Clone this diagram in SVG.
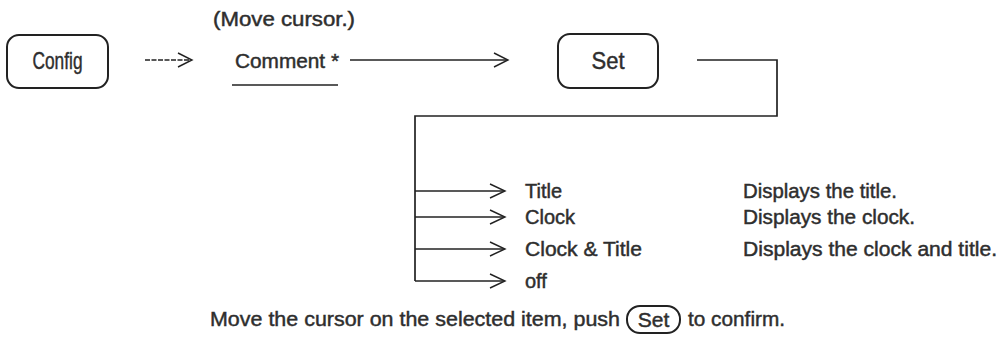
<svg xmlns="http://www.w3.org/2000/svg" width="1002" height="339" viewBox="0 0 1002 339">
<style>
text{font-family:"Liberation Sans",Arial,sans-serif;fill:#2e2e2e;stroke:#2e2e2e;stroke-width:0.45;font-size:20px}
.btn{font-size:24px}
.note{font-size:21px}
.box{fill:none;stroke:#222;stroke-width:2}
.ln{fill:none;stroke:#222;stroke-width:1.7}
.hd{fill:none;stroke:#222;stroke-width:1.4}
.c{text-anchor:middle}
</style>
<rect width="1002" height="339" fill="#fff"/>
<g id="config"><rect class="box" x="7" y="35" width="101" height="53" rx="12"/><text class="btn c" x="57.5" y="69" textLength="50" lengthAdjust="spacingAndGlyphs">Config</text></g>
<g id="comment"><text x="213" y="26" textLength="142" lengthAdjust="spacingAndGlyphs">(Move cursor.)</text><text x="235" y="68" textLength="104" lengthAdjust="spacingAndGlyphs">Comment *</text><line class="ln" x1="232" y1="85" x2="338" y2="85"/></g>
<g id="set"><rect class="box" x="558" y="34" width="100" height="54" rx="12"/><text class="btn c" x="608" y="69" textLength="33" lengthAdjust="spacingAndGlyphs">Set</text></g>
<g id="opt-title"><text x="525" y="198">Title</text><text x="743" y="198" textLength="154" lengthAdjust="spacingAndGlyphs">Displays the title.</text></g>
<g id="opt-clock"><text x="525" y="224">Clock</text><text x="743" y="224" textLength="172" lengthAdjust="spacingAndGlyphs">Displays the clock.</text></g>
<g id="opt-both"><text x="525" y="256" textLength="117" lengthAdjust="spacingAndGlyphs">Clock &amp; Title</text><text x="743" y="256" textLength="254" lengthAdjust="spacingAndGlyphs">Displays the clock and title.</text></g>
<g id="opt-off"><text x="525" y="288">off</text></g>
<g id="note"><text class="note" x="210" y="326" textLength="410" lengthAdjust="spacingAndGlyphs">Move the cursor on the selected item, push</text><rect class="box" x="627" y="306" width="53" height="27" rx="13"/><text class="note c" x="653.5" y="327">Set</text><text class="note" x="688" y="326" textLength="97" lengthAdjust="spacingAndGlyphs">to confirm.</text></g>
<g id="connectors">
<line class="ln" x1="145" y1="60" x2="191" y2="60" stroke-dasharray="5 1.5"/><polyline class="hd" points="178,53 192,60 178,67"/>
<line class="ln" x1="350" y1="60" x2="507" y2="60"/><polyline class="hd" points="494,53 508,60 494,67"/>
<path class="ln" d="M697 60H777V116H415V281"/>
<line class="ln" x1="415" y1="191" x2="504" y2="191"/><polyline class="hd" points="490,184 505,191 490,198"/>
<line class="ln" x1="415" y1="217" x2="504" y2="217"/><polyline class="hd" points="490,210 505,217 490,224"/>
<line class="ln" x1="415" y1="249" x2="504" y2="249"/><polyline class="hd" points="490,242 505,249 490,256"/>
<line class="ln" x1="415" y1="281" x2="504" y2="281"/><polyline class="hd" points="490,274 505,281 490,288"/>
</g>
</svg>
